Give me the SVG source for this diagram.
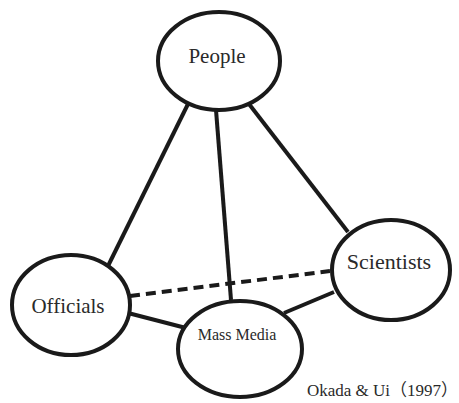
<svg xmlns="http://www.w3.org/2000/svg" width="459" height="403" viewBox="0 0 459 403">
  <style>
    .node { fill: #ffffff; stroke: #1a1a1a; stroke-width: 4; }
    .edge { stroke: #1a1a1a; stroke-width: 4; fill: none; stroke-linecap: butt; }
    .dash { stroke-dasharray: 10 6; }
    .label { font-family: "Liberation Serif", "Noto Sans CJK JP", serif; fill: #2a2a2a; text-anchor: middle; }
    .cite { font-family: "Liberation Serif", "Noto Sans CJK JP", serif; fill: #2a2a2a; font-size: 17px; }
  </style>
  <rect width="459" height="403" fill="#ffffff"/>
  <g id="connectors">
    <line class="edge" x1="188" y1="104" x2="107" y2="268"/>
    <line class="edge" x1="216" y1="110" x2="231" y2="300"/>
    <line class="edge" x1="249" y1="104" x2="348" y2="232"/>
    <line class="edge dash" x1="130" y1="296" x2="330" y2="271"/>
    <line class="edge" x1="128" y1="313" x2="186" y2="328"/>
    <line class="edge" x1="284" y1="313" x2="334" y2="292"/>
  </g>
  <g id="people">
    <ellipse class="node" cx="219" cy="61" rx="61" ry="49"/>
    <text class="label" x="217" y="63" font-size="21">People</text>
  </g>
  <g id="officials">
    <ellipse class="node" cx="71" cy="305" rx="59" ry="50"/>
    <text class="label" x="68" y="313" font-size="21">Officials</text>
  </g>
  <g id="mass-media">
    <ellipse class="node" cx="240" cy="349" rx="62" ry="48"/>
    <text class="label" x="237" y="340" font-size="16">Mass Media</text>
  </g>
  <g id="scientists">
    <ellipse class="node" cx="391" cy="270" rx="59" ry="50"/>
    <text class="label" x="389" y="269" font-size="22">Scientists</text>
  </g>
  <text class="cite" x="307" y="396">Okada &amp; Ui（1997）</text>
</svg>
